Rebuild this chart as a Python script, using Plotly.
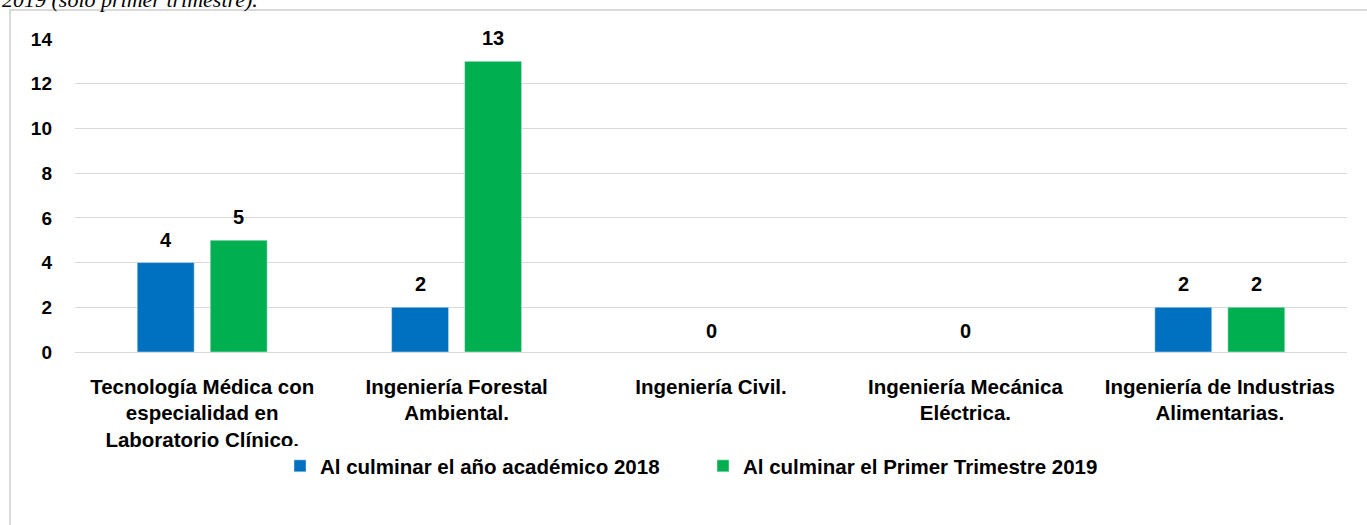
import plotly.graph_objects as go

carreras = [
    "Tecnología Médica con<br>especialidad en<br>Laboratorio Clínico.",
    "Ingeniería Forestal<br>Ambiental.",
    "Ingeniería Civil.",
    "Ingeniería Mecánica<br>Eléctrica.",
    "Ingeniería de Industrias<br>Alimentarias.",
]
serie_2018 = [4, 2, None, None, 2]
serie_2019 = [5, 13, None, None, 2]
# carreras sin graduados en ninguno de los dos periodos
carreras_cero = [carreras[2], carreras[3]]
valores_cero = [0, 0]

nombre_2018 = "Al culminar el año académico 2018"
nombre_2019 = "Al culminar el Primer Trimestre 2019"

FONT = "Liberation Sans"
W, H = 1367, 525
ML, MR, MT, MB = 75, 20, 39, 173
PW, PH = W - ML - MR, H - MT - MB


def px_x(p):
    return (p - ML) / PW


def px_y(p):
    return (H - MB - p) / PH


def bold(size):
    return dict(family=FONT, size=size, color="black", weight="bold")


fig = go.Figure()
fig.add_trace(go.Bar(x=carreras, y=serie_2018, name=nombre_2018,
                     marker=dict(color="#0070C0")))
fig.add_trace(go.Bar(x=carreras, y=serie_2019, name=nombre_2019,
                     marker=dict(color="#00B050")))

# etiquetas de datos sobre cada barra
etiquetas = []
for serie, desplaz in ((serie_2018, -36.5), (serie_2019, 36.5)):
    for cat, val in zip(carreras, serie):
        if val is None:
            continue
        etiquetas.append(dict(
            x=cat, y=val, text=str(val), showarrow=False,
            xshift=desplaz, yshift=23, yanchor="middle", font=bold(20)))
for cat, val in zip(carreras_cero, valores_cero):
    etiquetas.append(dict(
        x=cat, y=val, text=str(val), showarrow=False,
        yshift=21, yanchor="middle", font=bold(20)))

etiquetas.append(dict(
    text="<i>2019 (solo primer trimestre).</i>",
    xref="paper", yref="paper", x=px_x(0), y=px_y(14),
    xanchor="left", yanchor="bottom", showarrow=False,
    font=dict(family="Liberation Serif", size=22, color="black",
              weight="normal"),
))

fig.update_layout(
    width=W, height=H,
    margin=dict(l=ML, r=MR, t=MT, b=MB),
    paper_bgcolor="white", plot_bgcolor="white",
    font=bold(20),
    barmode="group", bargap=0.426, bargroupgap=0.22,
    xaxis=dict(
        showgrid=False, showline=False, ticks="",
        tickfont=bold(20.5),
        ticklabelstandoff=20,
    ),
    yaxis=dict(
        range=[0, 14], dtick=2, showline=False,
        gridcolor="#D9D9D9", gridwidth=1,
        zeroline=True, zerolinecolor="#D9D9D9", zerolinewidth=1,
        tickfont=bold(19),
        ticklabelstandoff=22,
    ),
    legend=dict(
        orientation="h", xanchor="left", x=px_x(280),
        yanchor="middle", y=px_y(466),
        font=bold(20.5),
        traceorder="normal", itemwidth=30, entrywidth=378,
    ),
    shapes=[dict(
        type="rect", xref="paper", yref="paper",
        x0=px_x(10), x1=px_x(1400), y0=px_y(560), y1=px_y(10),
        line=dict(color="#D9D9D9", width=2), fillcolor="rgba(0,0,0,0)",
        layer="below",
    )],
    annotations=etiquetas,
)

fig.write_html("out.html", config={"displayModeBar": False},
               post_script="document.body.style.margin='0px';")
